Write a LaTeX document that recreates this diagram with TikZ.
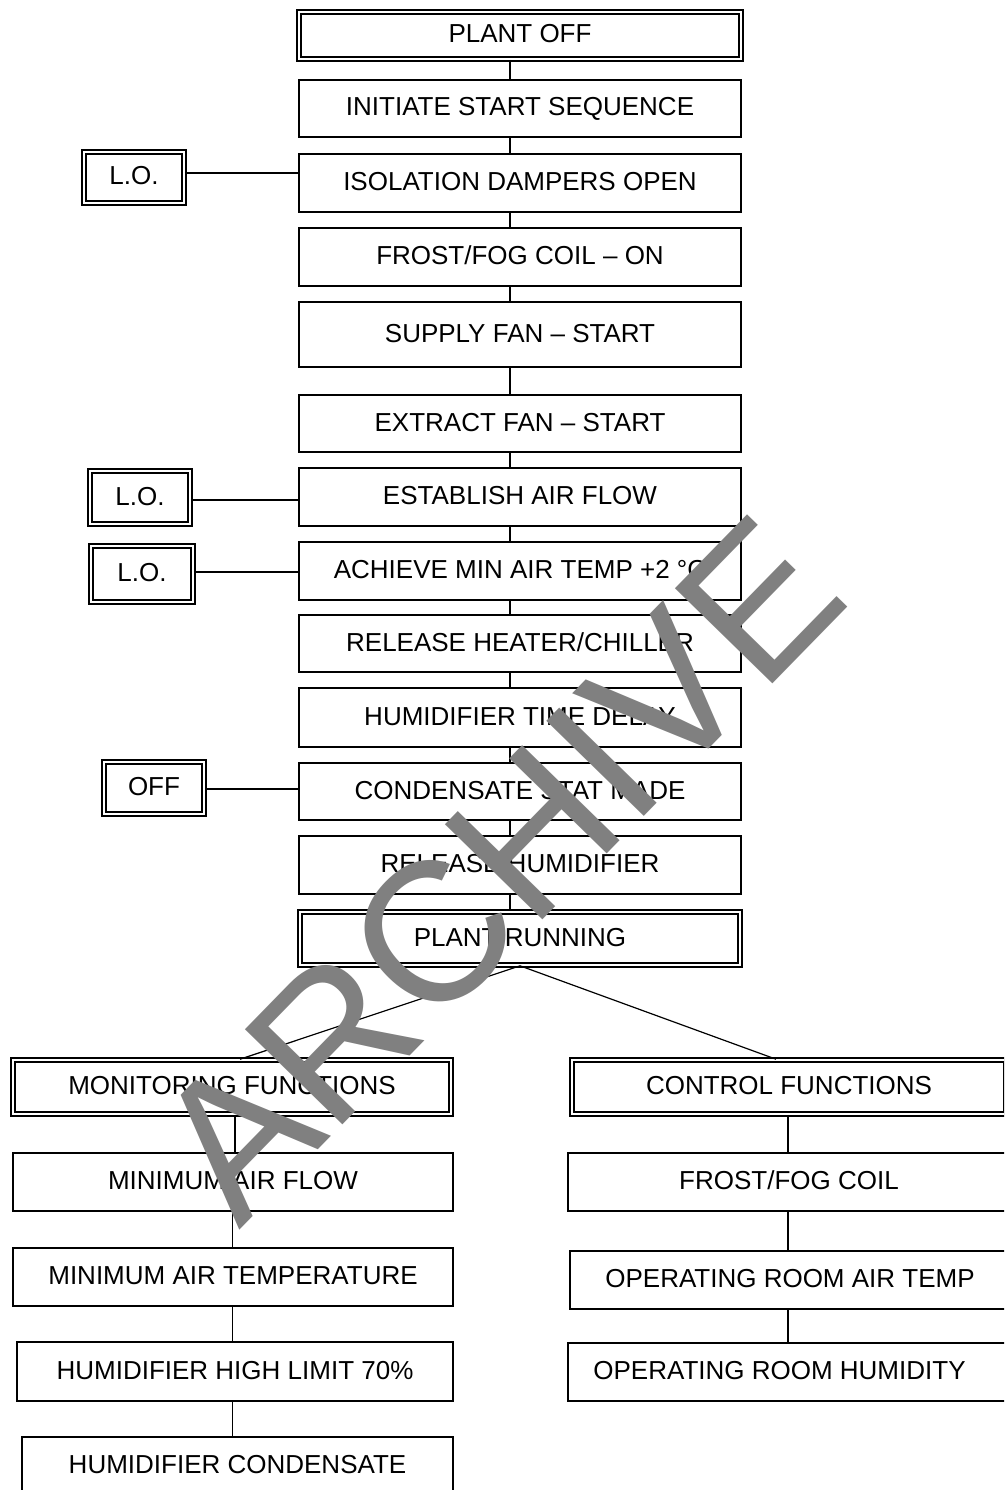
\documentclass[tikz,border=0pt]{standalone}
\usepackage{fontspec}
\setmainfont{Liberation Sans}
\definecolor{wmgray}{RGB}{128,128,128}
\begin{document}
\begin{tikzpicture}[x=1pt,y=-1pt,
  box/.style={draw, line width=1.4pt, rectangle, inner sep=0pt,
    font=\fontsize{26}{30}\selectfont, text height=19pt, text depth=4pt},
  dbox/.style={box, line width=1.6pt, double, double distance=2.4pt},
  link/.style={line width=1.2pt}]
\useasboundingbox (0,0) rectangle (1004,1490);
\clip (0,0) rectangle (1004,1490);
\fill[white] (0,0) rectangle (1004,1490);

% spine / levels
\coordinate (spine) at (510,0);
\coordinate (c1) at (0,173);
\coordinate (c2) at (0,500);
\coordinate (c3) at (0,572);
\coordinate (c4) at (0,789);
\coordinate (mtop) at (240,0);
\coordinate (ctop) at (776,0);
\coordinate (mline) at (235,0);
\coordinate (mline2) at (232.5,0);
\coordinate (cline) at (788,0);

% main column
\node[dbox, minimum width=442pt, minimum height=47pt] (plantoff) at (520,35.5) {PLANT OFF};
\node[box, minimum width=442pt, minimum height=57pt] (initiate) at (520,108.5) {INITIATE START SEQUENCE};
\node[box, minimum width=442pt, minimum height=58pt] (isolation) at (520,183) {ISOLATION DAMPERS OPEN};
\node[box, minimum width=442pt, minimum height=58pt] (frost) at (520,257) {FROST/FOG COIL -- ON};
\node[box, minimum width=442pt, minimum height=65pt] (supply) at (520,334.5) {SUPPLY FAN -- START};
\node[box, minimum width=442pt, minimum height=57pt] (extract) at (520,423.5) {EXTRACT FAN -- START};
\node[box, minimum width=442pt, minimum height=58pt] (establish) at (520,497) {ESTABLISH AIR FLOW};
\node[box, minimum width=442pt, minimum height=58pt] (achieve) at (520,571) {ACHIEVE MIN AIR TEMP +2 °C};
\node[box, minimum width=442pt, minimum height=57pt] (relheater) at (520,643.5) {RELEASE HEATER/CHILLER};
\node[box, minimum width=442pt, minimum height=59pt] (humdelay) at (520,717.5) {HUMIDIFIER TIME DELAY};
\node[box, minimum width=442pt, minimum height=57pt] (condensate) at (520,791.5) {CONDENSATE STAT MADE};
\node[box, minimum width=442pt, minimum height=58pt] (relhum) at (520,865) {RELEASE HUMIDIFIER};
\node[dbox, minimum width=440pt, minimum height=53pt] (plantrun) at (520,938.5) {PLANT RUNNING};

% side boxes
\node[dbox, minimum width=100pt, minimum height=51pt] (lo1) at (134,177.5) {L.O.};
\node[dbox, minimum width=100pt, minimum height=53pt] (lo2) at (140,497.5) {L.O.};
\node[dbox, minimum width=102pt, minimum height=56pt] (lo3) at (142,574) {L.O.};
\node[dbox, minimum width=100pt, minimum height=52pt] (off) at (154,788) {OFF};

% lower left column
\node[dbox, minimum width=438pt, minimum height=54pt] (monitor) at (232,1087) {MONITORING FUNCTIONS};
\node[box, minimum width=440pt, minimum height=58pt] (minflow) at (233,1182) {MINIMUM AIR FLOW};
\node[box, minimum width=440pt, minimum height=58pt] (mintemp) at (233,1277) {MINIMUM AIR TEMPERATURE};
\node[box, minimum width=436pt, minimum height=59pt] (humhigh) at (235,1371.5) {HUMIDIFIER HIGH LIMIT 70\%};
\node[box, minimum width=431pt, minimum height=58pt] (humcond) at (237.5,1466) {HUMIDIFIER CONDENSATE};

% lower right column
\node[dbox, minimum width=434pt, minimum height=54pt] (control) at (789,1087) {CONTROL FUNCTIONS};
\node[box, minimum width=442pt, minimum height=58pt] (frostcoil) at (789,1182) {FROST/FOG COIL};
\node[box, minimum width=440pt, minimum height=58pt] (oratemp) at (790,1280) {OPERATING ROOM AIR TEMP};
\node[box, minimum width=442pt, minimum height=58pt] (orhum) at (789,1372) {OPERATING ROOM HUMIDITY\hspace*{19pt}};

% spine connectors
\foreach \a/\b in {plantoff/initiate, initiate/isolation, isolation/frost, frost/supply,
  supply/extract, extract/establish, establish/achieve, achieve/relheater,
  relheater/humdelay, humdelay/condensate, condensate/relhum, relhum/plantrun}
  \draw[link] (\a.south -| spine) -- (\b.north -| spine);

% side connectors
\draw[link] (lo1.east |- c1) -- (isolation.west |- c1);
\draw[link] (lo2.east |- c2) -- (establish.west |- c2);
\draw[link] (lo3.east |- c3) -- (achieve.west |- c3);
\draw[link] (off.east |- c4) -- (condensate.west |- c4);

% branches
\draw[link] (plantrun.south) -- (monitor.north -| mtop);
\draw[link] (plantrun.south) -- (control.north -| ctop);

% columns
\draw[link] (monitor.south -| mline) -- (minflow.north -| mline);
\draw[link] (minflow.south -| mline2) -- (mintemp.north -| mline2);
\draw[link] (mintemp.south -| mline2) -- (humhigh.north -| mline2);
\draw[link] (humhigh.south -| mline2) -- (humcond.north -| mline2);
\draw[link] (control.south -| cline) -- (frostcoil.north -| cline);
\draw[link] (frostcoil.south -| cline) -- (oratemp.north -| cline);
\draw[link] (oratemp.south -| cline) -- (orhum.north -| cline);

% watermark
\node[rotate=45.7, text=wmgray, inner sep=0pt,
  font=\fontsize{198}{200}\selectfont] (wm) at (498,868) {ARCHIVE};
\end{tikzpicture}
\end{document}
